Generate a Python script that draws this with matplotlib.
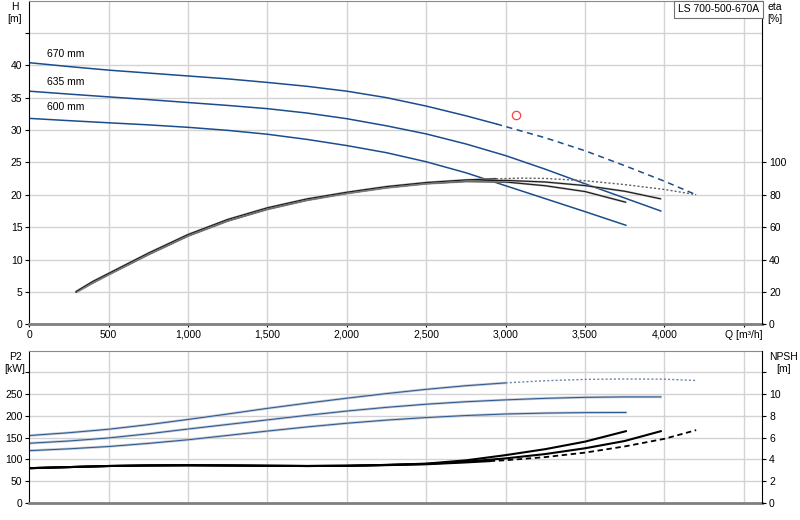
import matplotlib
matplotlib.use("Agg")
import matplotlib.pyplot as plt
import numpy as np

plt.rcParams['font.family'] = ['Liberation Sans', 'DejaVu Sans']

# --- head curves H [m] ---
q_670 = [0, 250, 500, 750, 1000, 1250, 1500, 1750, 2000, 2250, 2500, 2750, 2940]
h_670 = [40.4, 39.8, 39.25, 38.8, 38.35, 37.9, 37.35, 36.75, 36.0, 35.0, 33.7, 32.2, 30.95]
q_670_ext = [2940, 3250, 3500, 3750, 4000, 4200]
h_670_ext = [30.95, 28.8, 26.8, 24.5, 22.1, 20.0]

q_635 = [0, 250, 500, 750, 1000, 1250, 1500, 1750, 2000, 2250, 2500, 2750, 3000, 3250, 3500, 3750, 3977]
h_635 = [36.0, 35.55, 35.12, 34.7, 34.25, 33.8, 33.3, 32.62, 31.75, 30.65, 29.4, 27.85, 26.05, 23.95, 21.7, 19.5, 17.5]

q_600 = [0, 250, 500, 750, 1000, 1250, 1500, 1750, 2000, 2250, 2500, 2750, 3000, 3250, 3500, 3757]
h_600 = [31.8, 31.45, 31.12, 30.8, 30.42, 29.95, 29.35, 28.55, 27.6, 26.5, 25.1, 23.4, 21.4, 19.4, 17.4, 15.3]

curve_labels = ['670 mm', '635 mm', '600 mm']
label_h = [40.9, 36.6, 32.8]

# --- efficiency eta [%] ---
q_eta_600 = [295, 400, 500, 750, 1000, 1250, 1500, 1750, 2000, 2250, 2500, 2750, 3000, 3250, 3500, 3757]
eta_600 = [19.7, 25.5, 30.6, 43.0, 54.5, 63.8, 71.0, 76.6, 80.8, 84.3, 86.8, 88.2, 87.9, 85.6, 82.0, 75.4]
q_eta_635 = [295, 400, 500, 750, 1000, 1250, 1500, 1750, 2000, 2250, 2500, 2750, 3000, 3250, 3500, 3750, 3977]
eta_635 = [20.0, 26.0, 31.0, 43.5, 55.0, 64.3, 71.5, 77.0, 81.2, 84.7, 87.2, 88.7, 88.9, 87.9, 85.7, 82.2, 77.5]
q_eta_670 = [295, 400, 500, 750, 1000, 1250, 1500, 1750, 2000, 2250, 2500, 2750, 2940]
eta_670 = [20.3, 26.5, 31.5, 44.0, 55.5, 64.8, 72.0, 77.5, 81.6, 85.1, 87.6, 89.2, 89.9]
q_eta_670_ext = [2940, 3100, 3250, 3500, 3750, 4000, 4200]
eta_670_ext = [89.9, 90.3, 90.1, 88.7, 86.3, 83.3, 80.1]

# duty point
duty_q = [3067]
duty_h = [32.25]

# --- power P2 [kW] ---
q_p_670 = [0, 250, 500, 750, 1000, 1250, 1500, 1750, 2000, 2250, 2500, 2750, 3000]
p_670 = [155, 161.5, 169.5, 180, 192, 204.5, 217.5, 229.5, 240.8, 251.5, 261.2, 269.5, 276]
q_p_670_ext = [3000, 3250, 3500, 3750, 4000, 4200]
p_670_ext = [276, 281, 284, 285, 284.5, 281.5]
q_p_635 = [0, 250, 500, 750, 1000, 1250, 1500, 1750, 2000, 2250, 2500, 2750, 3000, 3250, 3500, 3750, 3977]
p_635 = [137.3, 142.5, 149.5, 159, 170, 180.5, 191, 201.5, 211.3, 219.8, 227, 232.7, 237, 240.5, 242.8, 243.8, 243.8]
q_p_600 = [0, 250, 500, 750, 1000, 1250, 1500, 1750, 2000, 2250, 2500, 2750, 3000, 3250, 3500, 3757]
p_600 = [120.3, 124.5, 129.8, 137, 145.3, 155.3, 165.3, 174.8, 183.3, 190.5, 196.3, 201, 204.5, 206.6, 207.7, 208]

# --- NPSH [m] ---
q_n_600 = [0, 250, 500, 750, 1000, 1250, 1500, 1750, 2000, 2250, 2500, 2750, 3000, 3250, 3500, 3757]
npsh_600 = [3.2, 3.3, 3.4, 3.45, 3.47, 3.45, 3.42, 3.4, 3.42, 3.5, 3.62, 3.92, 4.4, 4.95, 5.64, 6.6]
q_n_635 = [0, 250, 500, 750, 1000, 1250, 1500, 1750, 2000, 2250, 2500, 2750, 3000, 3250, 3500, 3750, 3977]
npsh_635 = [3.2, 3.3, 3.4, 3.45, 3.47, 3.45, 3.42, 3.4, 3.42, 3.5, 3.59, 3.8, 4.1, 4.5, 5.03, 5.7, 6.6]
q_n_670 = [0, 250, 500, 750, 1000, 1250, 1500, 1750, 2000, 2250, 2500, 2750, 2900]
npsh_670 = [3.2, 3.3, 3.4, 3.45, 3.47, 3.45, 3.42, 3.4, 3.42, 3.48, 3.56, 3.73, 3.85]
q_n_670_ext = [2900, 3000, 3250, 3500, 3750, 4000, 4200]
npsh_670_ext = [3.85, 3.93, 4.22, 4.63, 5.2, 5.9, 6.7]

x_ticks = [0, 500, 1000, 1500, 2000, 2500, 3000, 3500, 4000, 4500]
x_labels = ['0', '500', '1,000', '1,500', '2,000', '2,500', '3,000', '3,500', '4,000', 'Q [m³/h]']

BLUE = '#1b4d8e'
GRID = '#d3d3d3'
FS = 7.5
Q_MAX = 4615

fig = plt.figure(figsize=(8, 5.2), dpi=100)
ax = fig.add_axes([0.0366, 0.3763, 0.916, 0.6227])
ax2 = ax.twinx()
axb = fig.add_axes([0.0366, 0.0327, 0.916, 0.2929])
axb2 = axb.twinx()

def style(a, grid_y):
    a.set_xlim(0, Q_MAX)
    a.set_facecolor('white')
    for x in x_ticks[1:]:
        a.axvline(x, color=GRID, lw=1, zorder=0)
    for y in grid_y:
        a.axhline(y, color=GRID, lw=1, zorder=0)
    a.spines['left'].set_color('black')
    a.spines['right'].set_visible(False)
    a.spines['bottom'].set_color('#7f7f7f')
    a.spines['bottom'].set_linewidth(2)
    a.spines['top'].set_color('#8a8a8a')
    a.tick_params(axis='both', labelsize=FS, length=3, width=0.8, pad=2)

# top panel
style(ax, [5, 10, 15, 20, 25, 30, 35, 40, 45])
ax.set_ylim(0, 50)
ax.set_yticks(range(0, 50, 5))
ax.set_yticklabels([str(v) for v in range(0, 45, 5)] + [''])
ax.set_xticks(x_ticks)
ax.set_xticklabels(x_labels)
ax.tick_params(axis='x', length=2)

ax2.set_ylim(0, 200)
ax2.set_yticks(range(0, 120, 20))
ax2.tick_params(axis='y', labelsize=FS, length=3, width=0.8, pad=2)
for s in ['left', 'top', 'bottom']:
    ax2.spines[s].set_visible(False)
ax2.spines['right'].set_color('black')

ax.plot(q_670, h_670, color=BLUE, lw=1.1)
ax.plot(q_670_ext, h_670_ext, color=BLUE, lw=1.1, ls=(0, (4, 3)))
ax.plot(q_635, h_635, color=BLUE, lw=1.1)
ax.plot(q_600, h_600, color=BLUE, lw=1.1)
for txt, yv in zip(curve_labels, label_h):
    ax.text(110, yv, txt, fontsize=FS, va='bottom', ha='left')

for qq, ee in [(q_eta_600, eta_600), (q_eta_635, eta_635), (q_eta_670, eta_670)]:
    ax2.plot(qq, ee, color='#b0b0b0', lw=1.5, solid_capstyle='butt')
    ax2.plot(qq, ee, color='#1a1a1a', lw=0.8)
ax2.plot(q_eta_670_ext, eta_670_ext, color='#606060', lw=1.0, ls=(0, (1.5, 1.5)))

ax.plot(duty_q, duty_h, 'o', mfc='none', mec='#ff4040', ms=6, mew=0.9)

# bottom panel
style(axb, [50, 100, 150, 200, 250, 300])
axb.set_ylim(0, 350)
axb.set_yticks(range(0, 350, 50))
axb.set_yticklabels([str(v) for v in range(0, 300, 50)] + [''])
axb.set_xticks(x_ticks)
axb.set_xticklabels([])
axb.tick_params(axis='x', length=0)

axb2.set_ylim(0, 14)
axb2.set_yticks(range(0, 14, 2))
axb2.set_yticklabels([str(v) for v in range(0, 12, 2)] + [''])
axb2.tick_params(axis='y', labelsize=FS, length=3, width=0.8, pad=2)
for s in ['left', 'top', 'bottom']:
    axb2.spines[s].set_visible(False)
axb2.spines['right'].set_color('black')

for qq, pp in [(q_p_670, p_670), (q_p_635, p_635), (q_p_600, p_600)]:
    axb.plot(qq, pp, color='#bcc4d0', lw=1.8)
    axb.plot(qq, pp, color='#2a578f', lw=0.7)
axb.plot(q_p_670_ext, p_670_ext, color='#6f86a8', lw=1.0, ls=(0, (1.5, 1.5)))

axb2.plot(q_n_600, npsh_600, color='black', lw=1.5)
axb2.plot(q_n_635, npsh_635, color='black', lw=1.5)
axb2.plot(q_n_670, npsh_670, color='black', lw=1.5)
axb2.plot(q_n_670_ext, npsh_670_ext, color='black', lw=1.3, ls=(0, (3, 2)))

# axis titles
fig.text(15 / 800, 1 - 2 / 520, 'H\n[m]', fontsize=FS, ha='center', va='top', linespacing=1.3)
fig.text(767 / 800, 1 - 2 / 520, 'eta\n[%]', fontsize=FS, ha='left', va='top', linespacing=1.3)
fig.text(15 / 800, 1 - 352 / 520, 'P2\n[kW]', fontsize=FS, ha='center', va='top', linespacing=1.3)
fig.text(784 / 800, 1 - 352 / 520, 'NPSH\n[m]', fontsize=FS, ha='center', va='top', linespacing=1.3)

fig.text(678 / 800, 1 - 9.5 / 520, 'LS 700-500-670A', fontsize=7.5, ha='left', va='center',
         bbox=dict(boxstyle='square,pad=0.35', fc='white', ec='#707070', lw=0.8))

fig.savefig('out.png', dpi=100)
